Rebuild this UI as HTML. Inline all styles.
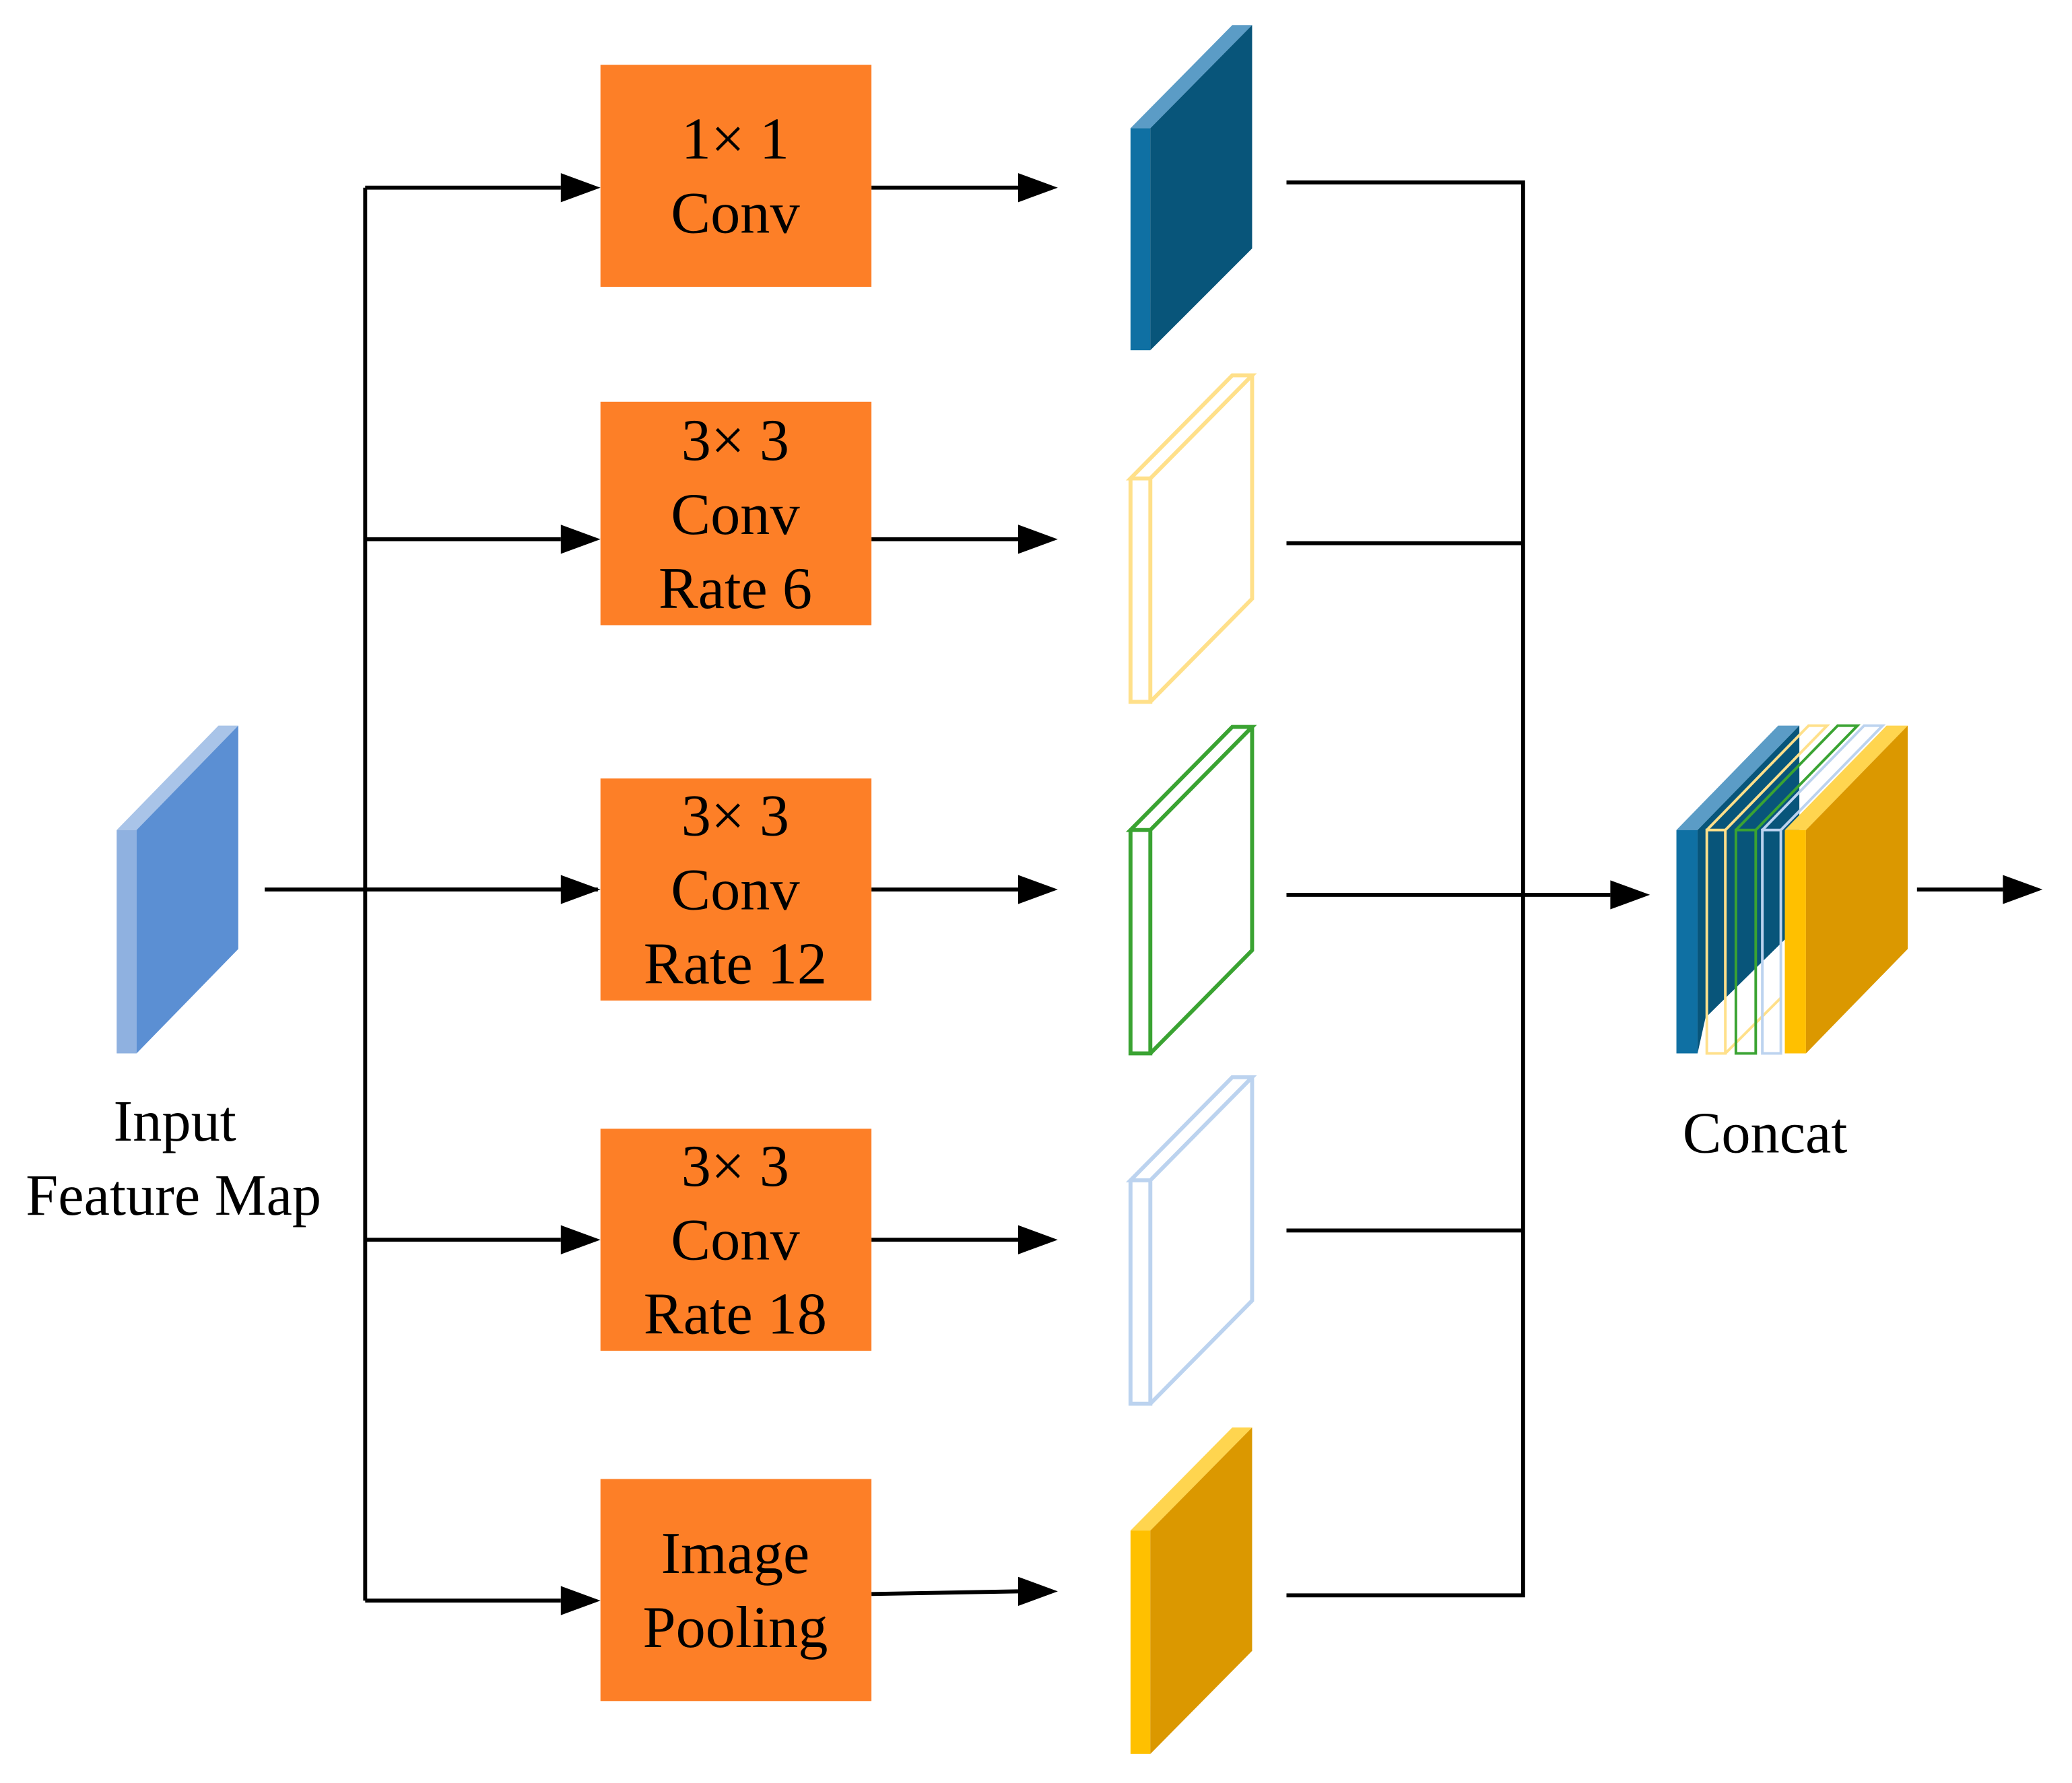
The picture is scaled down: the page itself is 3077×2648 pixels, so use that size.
<!DOCTYPE html>
<html><head><meta charset="utf-8"><style>html,body{margin:0;padding:0;background:#fff}svg{display:block}</style></head>
<body>
<svg width="3077" height="2648" viewBox="0 0 1567 1349" xmlns="http://www.w3.org/2000/svg">
<g stroke="#000" stroke-width="3" fill="none">
<path d="M276,142 V1211"/>
<path d="M200,673 H452"/>
<path d="M276,142 H424"/><path d="M276,408 H424"/><path d="M276,673 H424"/><path d="M276,938 H424"/><path d="M276,1211 H424"/>
<path d="M659,142 H770"/><path d="M659,408 H770"/><path d="M659,673 H770"/><path d="M659,938 H770"/><path d="M659,1206 L770,1204"/>
<path d="M973,138 H1152 V1207 H973"/><path d="M973,411 H1152"/><path d="M973,677 H1218"/><path d="M973,931 H1152"/>
<path d="M1450,673 H1515"/>
</g>
<g fill="#000">
<path d="M424,131 L454,142 L424,153z"/><path d="M424,397 L454,408 L424,419z"/><path d="M424,662 L454,673 L424,684z"/><path d="M424,927 L454,938 L424,949z"/><path d="M424,1200 L454,1211 L424,1222z"/>
<path d="M770,131 L800,142 L770,153z"/><path d="M770,397 L800,408 L770,419z"/><path d="M770,662 L800,673 L770,684z"/><path d="M770,927 L800,938 L770,949z"/><path d="M770,1193 L800,1204 L770,1215z"/>
<path d="M1218,666 L1248,677 L1218,688z"/><path d="M1515,662 L1545,673 L1515,684z"/>
</g>
<path d="M88,628 L103,628 L180,549 L165,549z" fill="#a9c4e8"/>
<rect x="88" y="628" width="15" height="169" fill="#8fb1e0"/>
<path d="M103,628 L180,549 L180,718 L103,797z" fill="#5b8fd3"/>
<g font-family="'Liberation Serif',serif" font-size="44" text-anchor="middle" fill="#000">
<text x="132" y="863">Input</text><text x="131" y="919">Feature Map</text>
<text x="1335" y="872">Concat</text>
</g>
<g fill="#fd7f27">
<rect x="454" y="49" width="205" height="168"/><rect x="454" y="304" width="205" height="169"/><rect x="454" y="589" width="205" height="168"/><rect x="454" y="854" width="205" height="168"/><rect x="454" y="1119" width="205" height="168"/>
</g>
<g font-family="'Liberation Serif',serif" font-size="45" text-anchor="middle" fill="#000">
<text x="556" y="120">1× 1</text><text x="556" y="176">Conv</text>
<text x="556" y="348">3× 3</text><text x="556" y="404">Conv</text><text x="556" y="460">Rate 6</text>
<text x="556" y="632">3× 3</text><text x="556" y="688">Conv</text><text x="556" y="744">Rate 12</text>
<text x="556" y="897">3× 3</text><text x="556" y="953">Conv</text><text x="556" y="1009">Rate 18</text>
<text x="556" y="1190">Image</text><text x="556" y="1246">Pooling</text>
</g>
<path d="M855,97 L870,97 L947,19 L932,19z" fill="#5b9cc6"/>
<rect x="855" y="97" width="15" height="168" fill="#0f70a3"/>
<path d="M870,97 L947,19 L947,188 L870,265z" fill="#08557a"/>
<g fill="none" stroke-width="3">
<path d="M855,362 L870,362 L947,284 L932,284z M855,362 V531 H870 V362 M870,531 L947,453 V284" stroke="#ffe08a"/>
<path d="M855,628 L870,628 L947,550 L932,550z M855,628 V797 H870 V628 M870,797 L947,719 V550" stroke="#3aa332"/>
<path d="M855,893 L870,893 L947,815 L932,815z M855,893 V1062 H870 V893 M870,1062 L947,984 V815" stroke="#bcd3ef"/>
</g>
<path d="M855,1158 L870,1158 L947,1080 L932,1080z" fill="#ffd54f"/>
<rect x="855" y="1158" width="15" height="169" fill="#ffc000"/>
<path d="M870,1158 L947,1080 L947,1249 L870,1327z" fill="#db9800"/>
<path d="M1268,628 L1284,628 L1361,549 L1345,549z" fill="#5b9cc6"/>
<rect x="1268" y="628" width="16" height="169" fill="#0f70a3"/>
<path d="M1284,628 L1361,549 L1361,700 L1290,770 L1284,797z" fill="#08557a"/>
<g fill="none" stroke-width="2">
<path d="M1291,628 H1305 V797 H1291z M1291,628 L1368,549 H1382 L1305,628 M1305,797 L1347,755" stroke="#ffe08a"/>
<path d="M1313,628 H1328 V797 H1313z M1313,628 L1390,549 H1405 L1328,628" stroke="#3aa332"/>
<path d="M1333,628 H1347 V797 H1333z M1333,628 L1410,549 H1424 L1347,628" stroke="#bcd3ef"/>
</g>
<path d="M1350,628 L1366,628 L1443,549 L1427,549z" fill="#ffd54f"/>
<rect x="1350" y="628" width="16" height="169" fill="#ffc000"/>
<path d="M1366,628 L1443,549 L1443,718 L1366,797z" fill="#db9800"/>
</svg>
</body></html>
